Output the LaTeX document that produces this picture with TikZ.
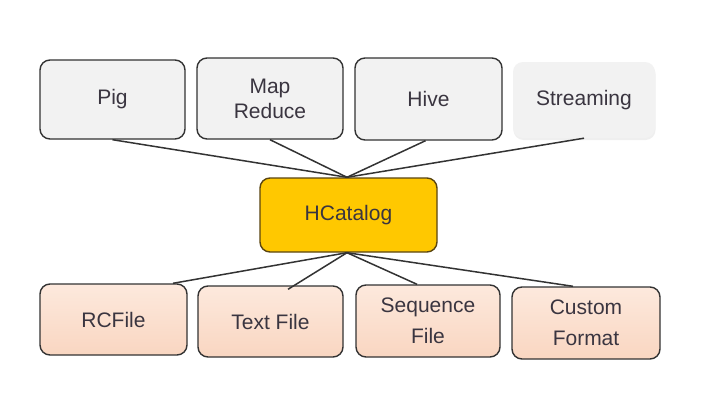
\documentclass[tikz,border=0pt]{standalone}
\usepackage{fontspec}
\setmainfont{Liberation Sans}
\usetikzlibrary{shadows,calc}
\definecolor{txt}{HTML}{3A3540}
\definecolor{topfill}{HTML}{F2F2F2}
\definecolor{edge}{HTML}{333333}
\definecolor{peachA}{HTML}{FDE9DD}
\definecolor{peachB}{HTML}{F9D6C1}
\definecolor{gold}{HTML}{FFC800}
\definecolor{goldedge}{HTML}{5A4510}
\tikzset{
  base/.style={rounded corners=10pt, align=center, text=txt, inner sep=0pt,
    font=\fontsize{21}{25}\selectfont},
  topbox/.style={base, draw=edge, line width=1.4pt, fill=topfill},
  streambox/.style={base, fill=topfill, drop shadow={opacity=0.12, shadow xshift=0.5pt, shadow yshift=-2pt}},
  hcbox/.style={base, draw=goldedge, line width=1.4pt, fill=gold},
  botbox/.style={base, draw=edge, line width=1.4pt, top color=peachA, bottom color=peachB,
    font=\fontsize{21}{31}\selectfont},
  link/.style={draw=edge, line width=1.5pt}
}
\begin{document}
\begin{tikzpicture}[x=1pt,y=-1pt]
\useasboundingbox[fill=white] (0,0) rectangle (721,407);
% top row
\node[topbox, minimum width=145pt, minimum height=79pt] (pig) at (112.5,99.5) {Pig};
\node[topbox, minimum width=146pt, minimum height=81pt] (mr) at (270,98.5) {Map\\Reduce};
\node[topbox, minimum width=147pt, minimum height=82pt] (hive) at (428.5,99) {Hive};
\node[streambox, minimum width=142pt, minimum height=76pt] (stream) at (584,100) {Streaming};
% centre
\node[hcbox, minimum width=177pt, minimum height=74pt] (hc) at (348.5,215) {HCatalog};
% bottom row
\node[botbox, minimum width=147pt, minimum height=71pt] (rc) at (113.5,319.5) {RCFile};
\node[botbox, minimum width=145pt, minimum height=71pt] (tf) at (270.5,321.5) {Text File};
\node[botbox, minimum width=144pt, minimum height=72pt] (sf) at (428,321) {Sequence\\File};
\node[botbox, minimum width=148pt, minimum height=72pt] (cf) at (586,323) {Custom\\Format};
% connectors
\draw[link] (pig.south) -- ([xshift=-1.5pt]hc.north);
\draw[link] (mr.south) -- ([xshift=-1.5pt]hc.north);
\draw[link] ([xshift=-3pt]hive.south) -- ([xshift=-1.5pt]hc.north);
\draw[link] (stream.south) -- ([xshift=-1.5pt]hc.north);
\draw[link] ([xshift=-1.5pt]hc.south) -- ([xshift=59.5pt]rc.north);
\draw[link] ([xshift=-1.5pt]hc.south) -- ([xshift=17.5pt,yshift=-4pt]tf.north);
\draw[link] ([xshift=-1.5pt]hc.south) -- ([xshift=-11pt]sf.north);
\draw[link] ([xshift=-1.5pt]hc.south) -- ([xshift=-13pt]cf.north);
\end{tikzpicture}
\end{document}
